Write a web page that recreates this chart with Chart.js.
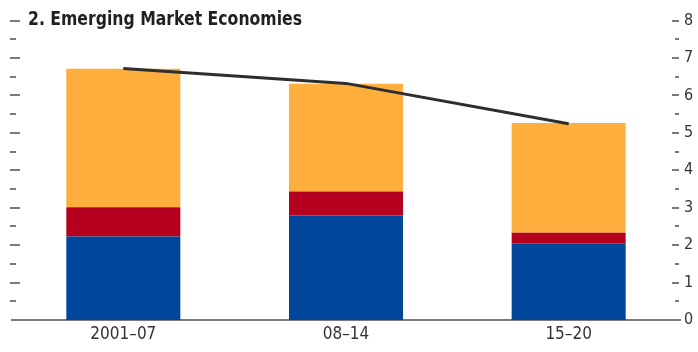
<!DOCTYPE html>
<html>
<head>
<meta charset="utf-8">
<script src="https://cdn.jsdelivr.net/npm/chart.js@4"></script>
<style>
  body { margin: 0; background: #fff; }
</style>
</head>
<body>
<canvas id="grafico" width="698" height="352"></canvas>
<script>
const periodos = ['2001–07', '08–14', '15–20'];
const serieAzul = [2.23, 2.79, 2.05];
const serieRoja = [0.78, 0.64, 0.28];
const serieNaranja = [3.70, 2.88, 2.93];
const serieLinea = [6.72, 6.32, 5.24];
const ticksY = [0, 1, 2, 3, 4, 5, 6, 7, 8];
const titulo = '2. Emerging Market Economies';

const fuente = "'DejaVu Sans Condensed', 'Liberation Sans', sans-serif";

// marcas cortas a ambos lados y el titulo dentro del area
const marcasPlugin = {
    id: 'marcas',
    afterDraw(chart) {
        const ctx = chart.ctx;
        const y = chart.scales.y;
        const area = chart.chartArea;
        ctx.save();
        ctx.strokeStyle = '#7a7a7a';
        ctx.lineWidth = 2;
        for (let v = 0.5; v <= ticksY[ticksY.length - 1]; v += 0.5) {
            const py = Math.round(y.getPixelForValue(v));
            const mayor = Number.isInteger(v);
            ctx.beginPath();
            ctx.moveTo(area.left - 2, py);
            ctx.lineTo(area.left + (mayor ? 8 : 4), py);
            ctx.moveTo(area.right - (mayor ? 8 : 5), py);
            ctx.lineTo(area.right - 1, py);
            ctx.stroke();
        }
        // titulo comprimido a lo ancho, como la fuente condensada del original
        ctx.fillStyle = '#231f20';
        ctx.font = 'bold 20px ' + fuente;
        ctx.textBaseline = 'middle';
        const ancho = ctx.measureText(titulo).width;
        ctx.translate(28, 20);
        ctx.scale(274 / ancho, 1);
        ctx.fillText(titulo, 0, 0);
        ctx.restore();
    }
};

const ctx = document.getElementById('grafico').getContext('2d');
new Chart(ctx, {
    type: 'bar',
    data: {
        labels: periodos,
        datasets: [
            {
                type: 'line',
                data: serieLinea,
                borderColor: '#2e2e2e',
                borderWidth: 3,
                pointRadius: 0,
                tension: 0,
                stack: 'linea',
                order: 0
            },
            { data: serieAzul, backgroundColor: '#00479b', stack: 'barras', order: 1 },
            { data: serieRoja, backgroundColor: '#b5001f', stack: 'barras', order: 1 },
            { data: serieNaranja, backgroundColor: '#fdae3c', stack: 'barras', order: 1 }
        ]
    },
    options: {
        responsive: false,
        animation: false,
        layout: { padding: { left: 12, right: 0, top: 20.5, bottom: 0 } },
        datasets: {
            bar: { categoryPercentage: 1, barPercentage: 0.512 }
        },
        plugins: {
            legend: { display: false },
            tooltip: { enabled: false }
        },
        scales: {
            x: {
                stacked: true,
                offset: true,
                afterFit: scale => { scale.height = 32; },
                grid: { display: false, drawTicks: false },
                border: { display: true, color: '#7a7a7a', width: 2 },
                ticks: { color: '#333333', padding: 4, font: { family: fuente, size: 17 } }
            },
            y: {
                position: 'right',
                stacked: true,
                min: 0,
                max: 8,
                afterBuildTicks: scale => { scale.ticks = ticksY.map(v => ({ value: v })); },
                afterFit: scale => { scale.width = 18; },
                grid: { display: false, drawTicks: false },
                border: { display: false },
                ticks: { color: '#333333', padding: 4, font: { family: fuente, size: 16 } }
            }
        }
    },
    plugins: [marcasPlugin]
});
</script>
</body>
</html>
